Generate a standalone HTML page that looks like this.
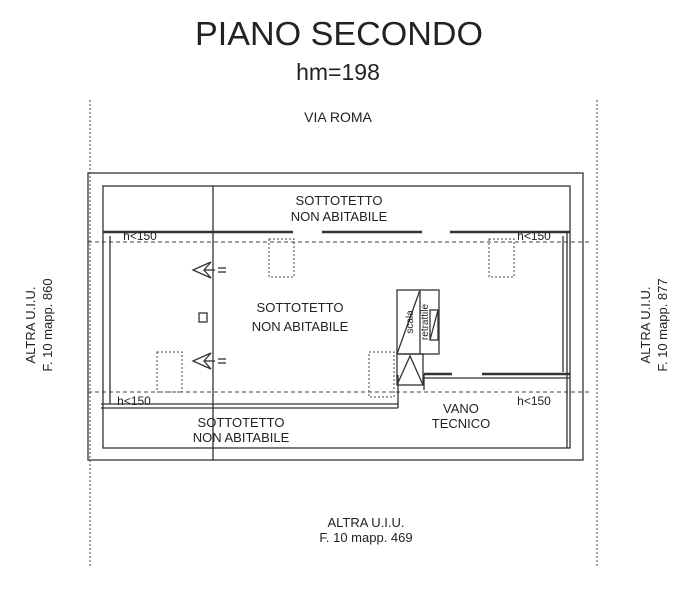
<!DOCTYPE html>
<html><head><meta charset="utf-8"><style>
html,body{margin:0;padding:0;background:#fff;}
svg{display:block;}
text{font-family:"Liberation Sans",sans-serif;fill:#222;}
</style></head><body>
<svg width="699" height="590" viewBox="0 0 699 590" xmlns="http://www.w3.org/2000/svg">
<rect width="699" height="590" fill="#fff"/>
<text x="339" y="45" font-size="33" text-anchor="middle" textLength="288" lengthAdjust="spacingAndGlyphs">PIANO SECONDO</text>
<text x="338" y="80" font-size="23" text-anchor="middle">hm=198</text>
<text x="338" y="122" font-size="14" text-anchor="middle">VIA ROMA</text>

<g stroke="#444" stroke-width="1" stroke-dasharray="2,2" fill="none">
<line x1="90" y1="100" x2="90" y2="568"/>
<line x1="597" y1="100" x2="597" y2="568"/>
<line x1="88" y1="242" x2="592" y2="242" stroke-dasharray="4,3"/>
<line x1="88" y1="392" x2="592" y2="392" stroke-dasharray="4,3"/>
</g>

<g fill="none" stroke="#333" stroke-width="1.3">
<rect x="88" y="173" width="495" height="287"/>
<rect x="103" y="186" width="467" height="262"/>
<line x1="213" y1="186" x2="213" y2="460"/>
<line x1="103" y1="232" x2="293" y2="232" stroke-width="2.5"/>
<line x1="322" y1="232" x2="422" y2="232" stroke-width="2.5"/>
<line x1="450" y1="232" x2="570" y2="232" stroke-width="2.5"/>
<line x1="110" y1="236" x2="110" y2="404"/>
<line x1="563" y1="236" x2="563" y2="372"/>
<line x1="567" y1="232" x2="567" y2="448"/>
<line x1="101" y1="408" x2="398" y2="408"/>
<line x1="101" y1="404" x2="398" y2="404"/>
<line x1="398" y1="375" x2="398" y2="408"/>
<line x1="424" y1="374" x2="452" y2="374" stroke-width="2.5"/>
<line x1="482" y1="374" x2="570" y2="374" stroke-width="2.5"/>
<line x1="424" y1="378" x2="570" y2="378"/>
<line x1="424" y1="374" x2="424" y2="390"/>
<rect x="397" y="290" width="42" height="64"/>
<line x1="420" y1="290" x2="420" y2="354"/>
<line x1="397" y1="354" x2="420" y2="290"/>
<rect x="397" y="354" width="26" height="31"/>
<polyline points="397,385 410,356 423,385"/>
<rect x="430" y="310" width="8" height="30"/>
<line x1="430" y1="340" x2="438" y2="310"/>
<rect x="199" y="313" width="8" height="9"/>
<polygon points="211,262 193,270 211,278 204,270"/>
<line x1="204" y1="270" x2="215" y2="270"/>
<line x1="218" y1="268" x2="226" y2="268"/><line x1="218" y1="272" x2="226" y2="272"/>
<polygon points="211,353 193,361 211,369 204,361"/>
<line x1="204" y1="361" x2="215" y2="361"/>
<line x1="218" y1="359" x2="226" y2="359"/><line x1="218" y1="363" x2="226" y2="363"/>
</g>

<g fill="none" stroke="#444" stroke-width="1" stroke-dasharray="2,2">
<rect x="269" y="239" width="25" height="38"/>
<rect x="489" y="239" width="25" height="38"/>
<rect x="157" y="352" width="25" height="40"/>
<rect x="369" y="352" width="25" height="45"/>
</g>

<g font-size="13" text-anchor="middle">
<text x="339" y="205">SOTTOTETTO</text>
<text x="339" y="221">NON ABITABILE</text>
<text x="300" y="312">SOTTOTETTO</text>
<text x="300" y="331">NON ABITABILE</text>
<text x="241" y="427">SOTTOTETTO</text>
<text x="241" y="442">NON ABITABILE</text>
<text x="461" y="413">VANO</text>
<text x="461" y="428">TECNICO</text>
<text x="534" y="405" font-size="12">h&lt;150</text>
<text x="134" y="405" font-size="12">h&lt;150</text>
<text x="140" y="240" font-size="12">h&lt;150</text>
<text x="534" y="240" font-size="12">h&lt;150</text>
</g>
<text font-size="10" transform="translate(413,322) rotate(-90)" text-anchor="middle">scala</text>
<text font-size="10" transform="translate(428,322) rotate(-90)" text-anchor="middle">retrattile</text>

<g font-size="13" text-anchor="middle">
<text transform="translate(35,325) rotate(-90)">ALTRA U.I.U.</text>
<text transform="translate(52,325) rotate(-90)">F. 10  mapp. 860</text>
<text transform="translate(650,325) rotate(-90)">ALTRA U.I.U.</text>
<text transform="translate(667,325) rotate(-90)">F. 10  mapp. 877</text>
<text x="366" y="527">ALTRA U.I.U.</text>
<text x="366" y="542">F. 10  mapp. 469</text>
</g>
</svg>
</body></html>
